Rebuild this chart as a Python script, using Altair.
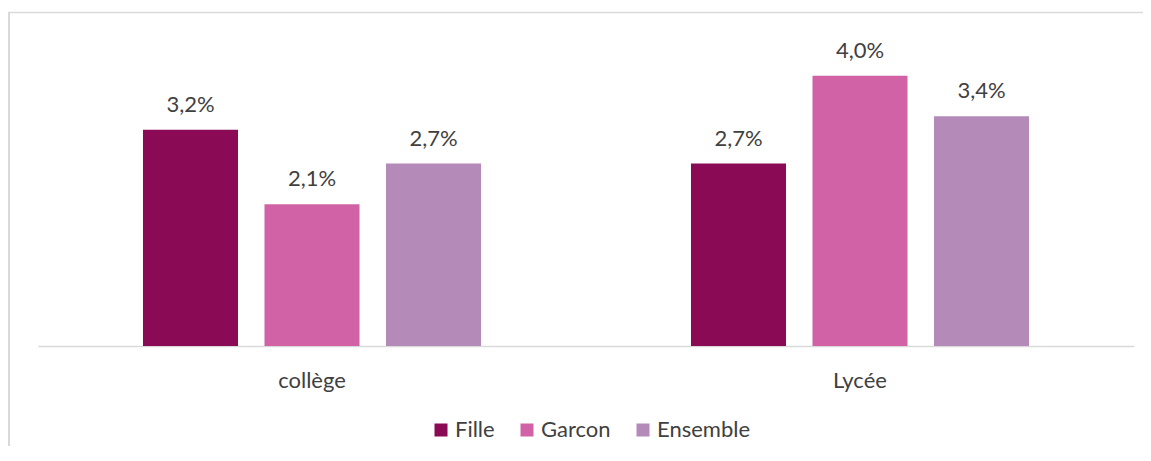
import altair as alt
import pandas as pd

niveaux = ["collège", "Lycée"]
series = ["Fille", "Garcon", "Ensemble"]
fille = [3.2, 2.7]
garcon = [2.1, 4.0]
ensemble = [2.7, 3.4]
colors = ["#8B0A55", "#D062A5", "#B38AB8"]

rows = []
for i, n in enumerate(niveaux):
    for s, vals in zip(series, [fille, garcon, ensemble]):
        v = vals[i]
        rows.append({"niveau": n, "serie": s, "valeur": v,
                     "label": f"{v:.1f}".replace(".", ",") + "%"})
df = pd.DataFrame(rows)

W, H = 1096, 304
FONT = "Lato"
FS = 22
TXT = "#404040"

base = alt.Chart(df).encode(
    x=alt.X("niveau:N", sort=niveaux,
            scale=alt.Scale(paddingInner=0, paddingOuter=0),
            axis=alt.Axis(title=None, labelAngle=0, ticks=False, tickSize=0,
                          labelPadding=41, labelBaseline="alphabetic",
                          labelFontSize=FS, labelFont=FONT, labelColor=TXT,
                          domainColor="#d9d9d9", domainWidth=1.5, grid=False)),
    xOffset=alt.XOffset("serie:N", sort=series,
                        scale=alt.Scale(paddingInner=0.218, paddingOuter=0.864)),
    y=alt.Y("valeur:Q", scale=alt.Scale(domain=[0, 4.5]), axis=None),
)

bars = base.mark_bar().encode(
    color=alt.Color("serie:N", scale=alt.Scale(domain=series, range=colors),
                    legend=alt.Legend(orient="none", legendX=392, legendY=377,
                                      direction="horizontal", title=None,
                                      symbolType="square", symbolSize=169,
                                      symbolStrokeWidth=0, labelFontSize=FS,
                                      labelFont=FONT, labelColor=TXT,
                                      columnPadding=21, labelOffset=3))
)

text = base.mark_text(dy=-18, baseline="alphabetic", fontSize=FS, font=FONT,
                      color=TXT).encode(text="label:N")

one = pd.DataFrame({"d": [0]})
top_line = alt.Chart(one).mark_rule(stroke="#d9d9d9", strokeWidth=1.5).encode(
    x=alt.value(-30), x2=alt.value(W + 60), y=alt.value(-29.5))
left_line = alt.Chart(one).mark_rule(stroke="#d9d9d9", strokeWidth=2).encode(
    x=alt.value(-29), y=alt.value(-30), y2=alt.value(H + 160))

chart = alt.layer(top_line, left_line, bars, text).properties(
    width=W, height=H,
    padding={"left": 30, "top": 34, "right": 9, "bottom": 100},
    autosize=alt.AutoSizeParams(type="none"),
    background="white",
).configure_view(strokeWidth=0)

chart.save("out.html", embed_options={"renderer": "svg", "actions": False})
